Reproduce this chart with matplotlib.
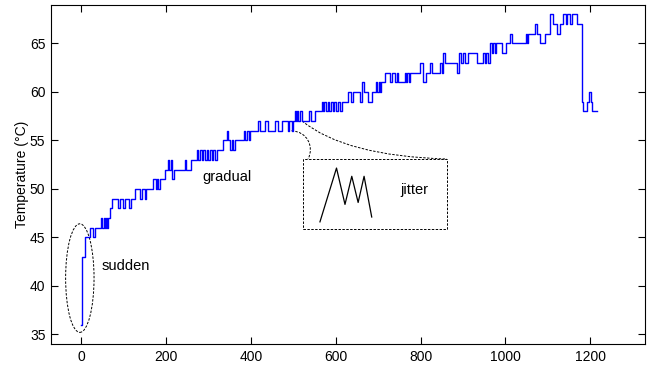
import numpy as np
import matplotlib
matplotlib.use("Agg")
import matplotlib.pyplot as plt
from matplotlib.patches import Ellipse, Rectangle, PathPatch
from matplotlib.path import Path

plt.rcParams["font.family"] = ["Liberation Sans", "DejaVu Sans"]
plt.rcParams["font.size"] = 10

# step breakpoints (time, temperature held until next time)
time = [0, 3, 9, 21, 28, 32, 47, 50, 53, 56, 59, 62, 64, 68, 74, 88, 92, 98,
        103, 112, 118, 127, 140, 144, 150, 154, 170, 176, 179, 182, 185, 198,
        205, 208, 212, 215, 219, 245, 248, 260, 273, 276, 280, 284, 288, 292,
        296, 300, 304, 308, 312, 316, 320, 335, 343, 347, 351, 355, 359, 363,
        383, 387, 391, 395, 398, 418, 422, 433, 441, 457, 465, 473, 488, 491,
        496, 500, 503, 506, 509, 512, 516, 520, 523, 537, 541, 551, 567, 570,
        573, 577, 581, 585, 589, 593, 597, 601, 606, 610, 614, 630, 636, 642,
        657, 663, 667, 677, 685, 695, 698, 701, 704, 708, 716, 728, 732, 740,
        744, 748, 763, 766, 769, 772, 775, 799, 805, 814, 822, 826, 846, 850,
        853, 858, 887, 890, 895, 901, 905, 912, 934, 948, 951, 954, 958, 964,
        968, 971, 975, 979, 993, 1001, 1011, 1016, 1048, 1051, 1054, 1070,
        1074, 1081, 1093, 1106, 1113, 1121, 1128, 1136, 1142, 1146, 1152,
        1158, 1168, 1180, 1184, 1193, 1198, 1202, 1205, 1215]
temp = [36, 43, 45, 46, 45, 46, 47, 46, 47, 46, 47, 46, 47, 48, 49, 48, 49, 48,
        49, 48, 49, 50, 49, 50, 49, 50, 51, 50, 51, 50, 51, 52,
        53, 52, 53, 51, 52, 53, 52, 53, 54, 53, 54, 53, 54, 53,
        54, 53, 54, 53, 54, 53, 54, 55, 56, 55, 54, 55, 54, 55,
        56, 55, 56, 55, 56, 57, 56, 57, 56, 57, 56, 57, 56, 57,
        56, 57, 58, 57, 58, 57, 58, 57, 57, 58, 57, 58, 59, 58,
        59, 58, 59, 58, 59, 58, 59, 58, 59, 58, 59, 60, 59, 60,
        59, 61, 60, 59, 60, 61, 60, 61, 60, 61, 62, 61, 62, 61,
        62, 61, 62, 61, 62, 61, 62, 63, 61, 62, 63, 62, 63, 62,
        64, 63, 62, 64, 63, 64, 63, 64, 63, 64, 63, 64, 63, 65,
        64, 65, 64, 65, 64, 65, 66, 65, 66, 65, 66, 67,
        66, 65, 66, 68, 67, 66, 67, 68, 67, 68, 67,
        68, 67, 59, 58, 59, 60, 59, 58, 58]

xticks = [0, 200, 400, 600, 800, 1000, 1200]
yticks = [35, 40, 45, 50, 55, 60, 65]

# jitter sketch inside the box
zig_x = [563, 602, 622, 638, 653, 667, 685]
zig_y = [46.6, 52.15, 48.4, 51.3, 48.6, 51.3, 47.1]

fig = plt.figure(figsize=(6.47, 3.68), dpi=100)
ax = fig.add_axes([0.0788, 0.0652, 0.918, 0.922])

ax.step(time, temp, where="post", color="#0000ff", lw=1.0)

dash = (0, (2.5, 1.5))
ax.add_patch(Ellipse((-3, 40.8), 67, 11.2, fill=False, ec="black", lw=0.7, ls=dash))
ax.add_patch(Rectangle((524, 45.9), 339, 7.18, fill=False, ec="black", lw=0.7, ls=dash))

lower = Path([(496, 56.0), (533, 55.9), (550, 54.4), (535, 53.08)],
             [Path.MOVETO, Path.CURVE4, Path.CURVE4, Path.CURVE4])
upper = Path([(521, 57.0), (622, 53.4), (862, 53.08)],
             [Path.MOVETO, Path.CURVE3, Path.CURVE3])
for p in (lower, upper):
    ax.add_patch(PathPatch(p, fill=False, ec="black", lw=0.7, ls=dash))

ax.plot(zig_x, zig_y, color="black", lw=0.9)

ax.text(49, 42, "sudden", va="center", ha="left", fontsize=10.5)
ax.text(285, 51.2, "gradual", va="center", ha="left", fontsize=10.5)
ax.text(752, 49.85, "jitter", va="center", ha="left", fontsize=10.5)

ax.set_xlim(-71, 1329)
ax.set_ylim(34, 69)
ax.set_xticks(xticks)
ax.set_yticks(yticks)
ax.tick_params(direction="in", length=5, width=0.8, top=True, right=True,
               labelsize=10, pad=4)
for s in ax.spines.values():
    s.set_linewidth(0.8)
ax.set_ylabel("Temperature (°C)", fontsize=10, labelpad=1)

fig.savefig("out.png", dpi=100)
